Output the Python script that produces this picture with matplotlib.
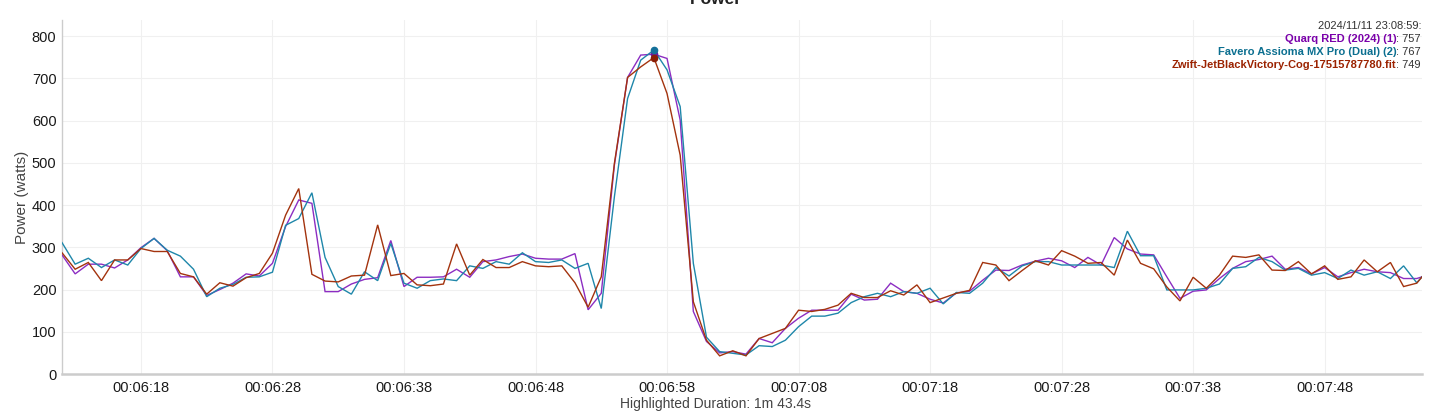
import matplotlib
matplotlib.use('Agg')
import matplotlib.pyplot as plt

plt.rcParams['font.family'] = ['Liberation Sans', 'DejaVu Sans']

# ---- data (one sample per second, elapsed seconds) ----
seconds = list(range(372, 477))

quarq = [282, 237, 260, 260, 251, 270, 299, 321, 292, 230,
         230, 186, 200, 215, 237, 232, 262, 349, 412, 404,
         195, 195, 213, 224, 228, 316, 207, 229, 229, 230,
         248, 229, 266, 270, 278, 284, 274, 272, 272, 285,
         152, 191, 495, 702, 755, 757, 747, 601, 148, 77,
         50, 53, 47, 84, 74, 108, 132, 151, 151, 151,
         189, 175, 177, 215, 195, 191, 177, 168, 192, 196,
         222, 246, 245, 258, 267, 274, 268, 252, 276, 258,
         323, 296, 284, 282, 230, 179, 196, 199, 226, 250,
         266, 271, 279, 248, 252, 237, 252, 230, 240, 248,
         242, 240, 226, 226, 236]

favero = [311, 260, 274, 252, 270, 258, 297, 321, 293, 279,
          248, 183, 203, 212, 229, 230, 241, 352, 368, 429,
          276, 207, 189, 242, 221, 309, 215, 203, 221, 225,
          221, 256, 250, 266, 260, 287, 266, 264, 270, 250,
          262, 155, 420, 652, 743, 767, 720, 633, 262, 87,
          53, 49, 45, 67, 65, 80, 112, 137, 137, 144,
          169, 183, 191, 183, 195, 191, 203, 166, 193, 191,
          215, 252, 232, 256, 266, 266, 258, 258, 258, 258,
          252, 338, 280, 280, 199, 199, 199, 203, 213, 250,
          254, 276, 266, 246, 250, 234, 240, 226, 246, 234,
          242, 226, 256, 216, 251]

zwift = [287, 248, 264, 221, 270, 270, 297, 290, 290, 238,
         230, 189, 216, 208, 228, 238, 286, 376, 439, 236,
         220, 218, 232, 234, 353, 233, 238, 211, 209, 213,
         308, 234, 271, 252, 252, 266, 256, 254, 256, 216,
         158, 230, 499, 702, 727, 749, 664, 518, 171, 80,
         43, 55, 43, 84, 96, 108, 151, 148, 153, 163,
         191, 181, 181, 197, 187, 211, 169, 180, 191, 198,
         264, 258, 221, 245, 268, 258, 292, 279, 262, 264,
         234, 317, 262, 249, 206, 173, 229, 203, 234, 279,
         276, 282, 246, 245, 266, 237, 256, 224, 230, 270,
         242, 264, 207, 215, 252]

series_names = ['Quarq RED (2024) (1)',
                'Favero Assioma MX Pro (Dual) (2)',
                'Zwift-JetBlackVictory-Cog-17515787780.fit']
peak_time = 417
peak_values = [757, 767, 749]
header_text = '2024/11/11 23:08:59:'

x_ticks = [378, 388, 398, 408, 418, 428, 438, 448, 458, 468]
x_tick_labels = ['00:06:18', '00:06:28', '00:06:38', '00:06:48', '00:06:58',
                 '00:07:08', '00:07:18', '00:07:28', '00:07:38', '00:07:48']
y_ticks = [0, 100, 200, 300, 400, 500, 600, 700, 800]

# ---- styles ----
line_colors = ['#8c2dc2', '#1f87aa', '#a3330e']
marker_colors = ['#6a1a9a', '#14709a', '#8a1d05']
text_colors = ['#7a00aa', '#0b6f90', '#9b2200']

W, H = 1434, 416
fig = plt.figure(figsize=(W / 100, H / 100), dpi=100)
ax = fig.add_axes([62 / W, (H - 374) / H, (1422 - 62) / W, (374 - 20) / H])

for vals, c in zip([quarq, favero, zwift], line_colors):
    ax.plot(seconds, vals, color=c, lw=1.0, solid_joinstyle='miter', zorder=3)

for pv, mc in zip(peak_values, marker_colors):
    ax.plot([peak_time], [pv], 'o', color=mc, ms=4.5, zorder=5)

ax.set_xlim(372.0, 475.4)
ax.set_ylim(0, 838)
ax.set_xticks(x_ticks)
ax.set_xticklabels(x_tick_labels)
ax.set_yticks(y_ticks)
ax.tick_params(axis='both', length=0, labelsize=10.5, colors='#1a1a1a')
ax.tick_params(axis='x', pad=5)
ax.tick_params(axis='y', pad=4)
ax.grid(True, color='#f0f0f0', lw=0.8)
ax.set_axisbelow(True)
for s in ['top', 'right']:
    ax.spines[s].set_visible(False)
ax.spines['left'].set_color('#cccccc')
ax.spines['left'].set_linewidth(1.0)
ax.spines['bottom'].set_color('#cccccc')
ax.spines['bottom'].set_linewidth(1.8)

ax.set_ylabel('Power (watts)', fontsize=11, color='#444444', labelpad=2)
fig.text(716 / W, 1 - 404 / H, 'Highlighted Duration: 1m 43.4s', ha='center',
         va='center', fontsize=10, color='#444444')

fig.text(716 / W, 1 - 4 / H, 'Power', ha='center', va='baseline',
         fontsize=12.5, fontweight='bold', color='#222222')

# ---- legend-like readout, right aligned ----
fig.canvas.draw()
r = fig.canvas.get_renderer()
x_right = 1421 / W
fs = 8.0
fig.text(x_right, 1 - 29 / H, header_text, ha='right', va='baseline',
         fontsize=fs, color='#333333')
for i, (name, val, tc) in enumerate(zip(series_names, peak_values, text_colors)):
    yb = 1 - (42 + 13 * i) / H
    tv = fig.text(x_right, yb, f': {val}', ha='right', va='baseline',
                  fontsize=fs, color='#333333')
    bb = tv.get_window_extent(renderer=r)
    fig.text(bb.x0 / fig.bbox.width, yb, name, ha='right', va='baseline',
             fontsize=fs, fontweight='bold', color=tc)

fig.savefig('out.png', dpi=100)
